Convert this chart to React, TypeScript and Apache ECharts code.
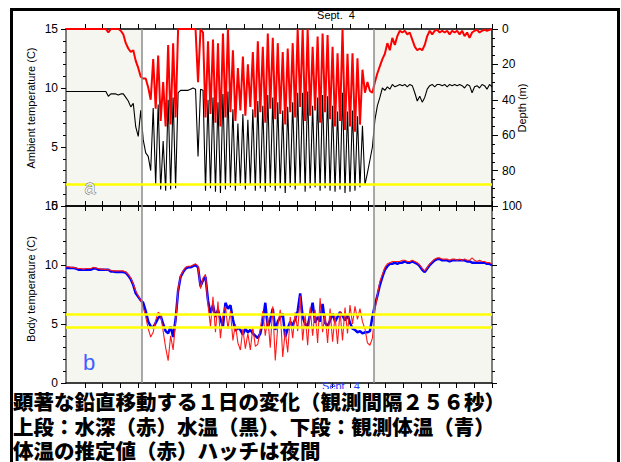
import React, { useEffect, useRef } from "react";
import * as echarts from "echarts";

// ---- data ----
const TIME_SPAN_H = 24.08; // hours shown on the x axis
const HOUR_TICKS = [1.07, 2.07, 3.07, 4.07, 5.07, 6.07, 7.07, 8.07, 9.07, 10.07, 11.07, 12.07, 13.07, 14.07, 15.07, 16.07, 17.07, 18.07, 19.07, 20.07, 21.07, 22.07, 23.07, 24.07];
const NIGHT_PERIODS: [number, number][] = [[0, 4.3], [17.41, 24.08]];
const DAY_LABEL = "Sept.  4";
const TEMP_TICKS = [0, 5, 10, 15];
const DEPTH_TICKS = [0, 20, 40, 60, 80, 100];

// top panel: depth (m, red) and ambient water temperature (C, black)
const DEPTH_M = [
  0, 0, 0, 0, 0, 0, 0, 0, 0, 0,
  0, 0, 0, 0, 0, 0, 0, 2, 0, 0,
  0, 0, 1, 3, 8, 11, 13, 12, 18, 22,
  27, 28, 28, 33, 40, 17, 45, 15, 52, 30,
  55, 9, 54, 8, 50, 0, 0, 0, 0, 0,
  0, 0, 0, 30, 0, 2, 50, 7, 48, 6,
  53, 8, 55, 2.5, 50, 0, 47, 12, 52, 22,
  46, 15.6, 49, 20, 44, 13, 50, 7, 47, 10,
  53, 2.5, 45, 5, 51, 8, 48, 13, 54, 11,
  47, 8, 50, 0, 44, 0.5, 52, 0, 49, 10,
  46, 4.3, 53, 2.5, 47, 3.4, 51, 10, 55, 13.7,
  52, 0, 57, 14, 55, 13.7, 58, 16.6, 54, 23,
  36, 30, 35, 36, 30, 25, 21, 17, 14, 8,
  12, 5, 9, 4, 1, 2, 1, 3, 2, 6,
  10, 12, 11, 12, 9, 4, 1, 3, 1, 0.5,
  2, 1, 2, 1, 3, 1, 2, 1, 3, 1,
  4, 2, 5, 2, 1, 0.5, 2, 1, 0.5, 1,
  0.5, 0,
];
const WATER_TEMP = [
  9.7, 9.7, 9.7, 9.7, 9.7, 9.7, 9.7, 9.7, 9.7, 9.7,
  9.7, 9.7, 9.7, 9.7, 9.7, 9.7, 9.7, 9.3, 9.5, 9.5,
  9.5, 9.4, 9.5, 9.5, 9.2, 8.9, 8.4, 8.7, 6.7, 5.9,
  8.1, 5.6, 4.5, 4.2, 3.0, 8.3, 1.8, 8.6, 1.4, 5.5,
  1.3, 9.0, 1.4, 9.2, 1.5, 9.6, 9.8, 9.8, 9.8, 9.8,
  9.9, 10.0, 9.9, 4.2, 9.9, 9.8, 1.3, 9.0, 1.5, 9.2,
  1.2, 8.8, 1.1, 9.5, 1.4, 9.7, 1.6, 8.2, 1.3, 7.0,
  1.7, 7.8, 1.4, 7.3, 1.8, 8.2, 1.3, 8.9, 1.5, 8.5,
  1.2, 9.4, 1.6, 9.2, 1.3, 8.8, 1.5, 8.1, 1.1, 8.4,
  1.6, 8.8, 1.4, 9.6, 1.8, 9.6, 1.2, 9.7, 1.5, 8.5,
  1.6, 9.2, 1.3, 9.4, 1.5, 9.3, 1.3, 8.5, 1.2, 8.0,
  1.4, 9.6, 1.1, 8.0, 1.2, 8.1, 1.3, 7.6, 1.6, 6.8,
  1.8, 2.8, 3.9, 5.0, 7.3, 8.5, 9.2, 10.0, 9.8, 10.1,
  9.9, 10.3, 10.1, 10.2, 10.3, 10.2, 10.3, 10.1, 10.3, 10.2,
  9.6, 8.9, 9.3, 8.8, 9.2, 9.9, 10.2, 10.3, 10.1, 10.3,
  10.3, 10.2, 10.3, 10.1, 10.3, 10.2, 10.3, 10.2, 10.3, 10.2,
  10.0, 10.3, 10.2, 9.6, 10.1, 10.2, 10.0, 10.3, 10.2, 9.9,
  10.3, 10.1,
];
// bottom panel: observed body temperature (blue) and estimated (red)
const BODY_OBS = [
  9.75, 9.75, 9.75, 9.75, 9.7, 9.6, 9.6, 9.6, 9.6, 9.6,
  9.6, 9.7, 9.7, 9.6, 9.6, 9.6, 9.6, 9.6, 9.45, 9.45,
  9.4, 9.4, 9.4, 9.4, 9.35, 9.1, 8.8, 8.3, 7.6, 7.3,
  7.0, 6.8, 6.1, 5.2, 4.8, 4.7, 5.1, 5.5, 5.7, 5.0,
  4.4, 4.2, 4.8, 3.9, 5.4, 7.8, 9.0, 9.4, 9.7, 9.8,
  9.8, 9.9, 10.0, 9.8, 8.2, 8.7, 9.0, 7.0, 5.9, 6.6,
  5.6, 6.2, 5.4, 4.8, 6.8, 6.3, 6.6, 5.4, 4.4, 4.7,
  4.5, 4.1, 4.6, 4.3, 4.5, 4.2, 4.0, 3.8, 4.2, 5.2,
  6.8, 4.7, 5.4, 6.3, 4.5, 5.2, 5.6, 5.9, 3.9, 4.6,
  5.2, 4.9, 5.4, 6.1, 7.6, 5.6, 5.0, 4.8, 5.8, 6.8,
  5.1, 5.6, 5.2, 6.7, 5.1, 4.8, 5.3, 5.9, 5.2, 5.6,
  6.0, 5.7, 5.3, 5.8, 5.1, 4.6, 4.5, 4.3, 4.4, 4.2,
  4.3, 4.3, 4.4, 5.6, 6.6, 7.4, 8.3, 9.0, 9.6, 9.9,
  10.1, 10.1, 10.2, 10.1, 10.2, 10.2, 10.3, 10.2, 10.2, 10.3,
  10.2, 10.1, 9.9, 9.6, 9.4, 9.7, 10.0, 10.2, 10.4, 10.5,
  10.5, 10.4, 10.4, 10.4, 10.3, 10.4, 10.4, 10.4, 10.4, 10.4,
  10.4, 10.3, 10.3, 10.2, 10.2, 10.2, 10.2, 10.2, 10.2, 10.1,
  10.1, 10.0,
];
const BODY_EST = [
  9.85, 9.85, 9.8, 9.8, 9.75, 9.7, 9.7, 9.65, 9.7, 9.7,
  9.7, 9.8, 9.75, 9.7, 9.65, 9.65, 9.6, 9.6, 9.55, 9.5,
  9.5, 9.5, 9.5, 9.5, 9.4, 9.2, 8.9, 8.4, 7.8, 7.4,
  7.0, 6.4, 5.6, 4.6, 3.9, 4.3, 5.3, 6.0, 5.8, 4.4,
  3.0, 1.9, 4.0, 2.8, 5.2, 7.9, 9.1, 9.5, 9.8, 9.9,
  9.9, 10.0, 10.1, 9.9, 8.0, 8.9, 9.2, 6.6, 4.8, 7.3,
  4.3, 6.9, 3.8, 5.9, 6.5, 4.6, 6.1, 3.6, 5.0, 3.4,
  2.8, 4.6, 2.9, 4.2, 2.8, 4.7, 3.1, 3.3, 4.6, 6.1,
  4.0, 5.6, 3.0, 6.5, 1.9, 4.8, 6.2, 2.2, 4.4, 2.6,
  5.6, 3.8, 6.0, 4.4, 7.4, 3.6, 5.8, 3.2, 6.4, 4.0,
  6.2, 3.4, 7.2, 4.3, 5.9, 3.4, 6.3, 3.5, 5.7, 3.3,
  6.1, 3.6, 6.4, 4.2, 6.6, 5.0, 6.5, 5.4, 6.3, 5.2,
  4.6, 3.4, 3.2, 3.8, 6.1, 7.5, 8.6, 9.2, 9.8, 10.1,
  10.2, 10.3, 10.3, 10.3, 10.3, 10.4, 10.4, 10.3, 10.3, 10.4,
  10.3, 10.2, 10.0, 9.7, 9.5, 9.8, 10.1, 10.3, 10.5, 10.6,
  10.6, 10.5, 10.5, 10.5, 10.4, 10.5, 10.5, 10.4, 10.5, 10.4,
  10.5, 10.4, 10.4, 10.6, 10.4, 10.3, 10.4, 10.3, 10.3, 10.2,
  10.2, 10.1,
];
const THRESH_TOP = [1.87];
const THRESH_BOTTOM = [5.85, 4.69];

const CAPTION_LINES = [
  "顕著な鉛直移動する１日の変化（観測間隔２５６秒）",
  "上段：水深（赤）水温（黒）、下段：観測体温（青）",
  "体温の推定値（赤）ハッチは夜間",
];

// ---- chart ----
const W = 621;
const H = 462;
const LATIN = "'Liberation Sans', Arial, sans-serif";
const CJK = "'Noto Sans CJK JP', sans-serif";

const times = DEPTH_M.map((_, i) => (i * TIME_SPAN_H) / (DEPTH_M.length - 1));
const pairs = (vals: number[]) => vals.map((v, i) => [times[i], v]);

function xAxis(gridIndex: number, position: string, inside: boolean) {
  return {
    type: "value",
    gridIndex,
    position,
    min: 0,
    max: TIME_SPAN_H,
    z: 1.5,
    axisLine: { show: true, onZero: false, lineStyle: { color: "#000", width: 1.5 } },
    axisTick: { show: true, inside, length: 5, customValues: HOUR_TICKS, lineStyle: { color: "#000", width: 1 } },
    axisLabel: { show: false },
    splitLine: { show: false },
  };
}

function tempAxis(gridIndex: number, position: string, showLabels: boolean) {
  return {
    type: "value",
    gridIndex,
    position,
    min: TEMP_TICKS[0],
    max: TEMP_TICKS[TEMP_TICKS.length - 1],
    interval: 5,
    z: 1.5,
    axisLine: { show: true, onZero: false, lineStyle: { color: "#555", width: 1.5 } },
    axisTick: { show: true, inside: false, length: 5, lineStyle: { color: "#000" } },
    minorTick: { show: true, splitNumber: 5, length: 3, lineStyle: { color: "#000" } },
    axisLabel: { show: showLabels, color: "#000", fontSize: 12, fontFamily: LATIN, margin: 8 },
    splitLine: { show: false },
  };
}

const nightArea = {
  silent: true,
  itemStyle: { color: "#f6f6f1" },
  data: NIGHT_PERIODS.map(([a, b]) => [{ xAxis: a }, { xAxis: b }]),
};
const nightEdges = {
  silent: true,
  symbol: "none",
  label: { show: false },
  lineStyle: { color: "#8c8c8c", width: 1.5, type: "solid" },
  data: [{ xAxis: NIGHT_PERIODS[0][1] }, { xAxis: NIGHT_PERIODS[1][0] }],
};
const yellow = (vals: number[]) => ({
  silent: true,
  symbol: "none",
  label: { show: false },
  lineStyle: { color: "#ffff00", width: 2.5, type: "solid" },
  data: vals.map((v) => ({ yAxis: v })),
});

const option: any = {
  animation: false,
  backgroundColor: "#ffffff",
  grid: [
    { left: 66, top: 29, width: 426, height: 177 },
    { left: 66, top: 206, width: 426, height: 177 },
  ],
  xAxis: [
    xAxis(0, "top", false),
    xAxis(0, "bottom", true),
    xAxis(1, "top", true),
    xAxis(1, "bottom", false),
  ],
  yAxis: [
    tempAxis(0, "left", true),
    {
      type: "value",
      gridIndex: 0,
      position: "right",
      min: DEPTH_TICKS[0],
      max: DEPTH_TICKS[DEPTH_TICKS.length - 1],
      interval: 20,
      inverse: true,
      z: 1.5,
      axisLine: { show: true, onZero: false, lineStyle: { color: "#000", width: 1.5 } },
      axisTick: { show: true, inside: false, length: 6, lineStyle: { color: "#000" } },
      minorTick: { show: true, splitNumber: 4, length: 3, lineStyle: { color: "#000" } },
      axisLabel: { color: "#000", fontSize: 12, fontFamily: LATIN, margin: 10 },
      splitLine: { show: false },
    },
    tempAxis(1, "left", true),
    tempAxis(1, "right", false),
  ],
  series: [
    {
      type: "line",
      name: "depth",
      xAxisIndex: 0,
      yAxisIndex: 1,
      data: pairs(DEPTH_M),
      symbol: "none",
      clip: false,
      lineStyle: { color: "#ff0000", width: 2 },
      markArea: nightArea,
      markLine: nightEdges,
    },
    {
      type: "line",
      name: "water temperature",
      xAxisIndex: 0,
      yAxisIndex: 0,
      data: pairs(WATER_TEMP),
      symbol: "none",
      lineStyle: { color: "#000000", width: 1.1 },
      markLine: yellow(THRESH_TOP),
    },
    {
      type: "line",
      name: "body temperature",
      xAxisIndex: 2,
      yAxisIndex: 2,
      data: pairs(BODY_OBS),
      symbol: "none",
      lineStyle: { color: "#0000ff", width: 2.5 },
      markArea: nightArea,
      markLine: nightEdges,
    },
    {
      type: "line",
      name: "estimated body temperature",
      xAxisIndex: 2,
      yAxisIndex: 2,
      data: pairs(BODY_EST),
      symbol: "none",
      lineStyle: { color: "#ff1a1a", width: 1.1 },
      markLine: yellow(THRESH_BOTTOM),
    },
  ],
  graphic: [
    {
      type: "text",
      x: 336,
      y: 15,
      z: 100,
      style: { text: DAY_LABEL, fill: "#000", fontSize: 11, fontFamily: LATIN, align: "center", verticalAlign: "middle" },
    },
    {
      type: "text",
      x: 31,
      y: 108,
      rotation: Math.PI / 2,
      z: 100,
      style: { text: "Ambient temperature (C)", fill: "#000", fontSize: 11, fontFamily: LATIN, align: "center", verticalAlign: "middle" },
    },
    {
      type: "text",
      x: 31,
      y: 289,
      rotation: Math.PI / 2,
      z: 100,
      style: { text: "Body temperature (C)", fill: "#000", fontSize: 11, fontFamily: LATIN, align: "center", verticalAlign: "middle" },
    },
    {
      type: "text",
      x: 522,
      y: 108,
      rotation: Math.PI / 2,
      z: 100,
      style: { text: "Depth (m)", fill: "#000", fontSize: 11, fontFamily: LATIN, align: "center", verticalAlign: "middle" },
    },
    {
      type: "text",
      x: 90,
      y: 187,
      z: 100,
      style: { text: "a", fill: "#f0f0f0", stroke: "#555", lineWidth: 0.8, fontSize: 20, fontFamily: LATIN, align: "center", verticalAlign: "middle" },
    },
    {
      type: "text",
      x: 89,
      y: 362,
      z: 100,
      style: { text: "b", fill: "#4060ff", fontSize: 22, fontFamily: LATIN, align: "center", verticalAlign: "middle" },
    },
    {
      type: "text",
      x: 341,
      y: 380,
      z: 100,
      style: { text: DAY_LABEL, fill: "#2040ff", fontSize: 11, fontFamily: LATIN, align: "center", verticalAlign: "top" },
    },
    {
      type: "rect",
      z: 101,
      shape: { x: 13, y: 389, width: 604, height: 80 },
      style: { fill: "#ffffff" },
    },
    ...CAPTION_LINES.map((t, k) => ({
      type: "text",
      x: 13,
      y: 401 + k * 24.5,
      z: 102,
      style: { text: t, fill: "#000", fontSize: 20.5, fontWeight: 900, fontFamily: CJK, align: "left", verticalAlign: "middle" },
    })),
    {
      type: "rect",
      z: 103,
      shape: { x: 11.5, y: 9.5, width: 607, height: 470 },
      style: { fill: "none", stroke: "#000", lineWidth: 3 },
    },
  ],
};

export default function App() {
  const ref = useRef<HTMLDivElement>(null);
  useEffect(() => {
    const el = ref.current;
    if (!el) return;
    const chart = echarts.init(el, null, { renderer: "svg" });
    chart.setOption(option);
    return () => chart.dispose();
  }, []);
  return (
    <div
      ref={ref}
      style={{ position: "fixed", left: 0, top: 0, width: W, height: H, background: "#fff" }}
    />
  );
}
